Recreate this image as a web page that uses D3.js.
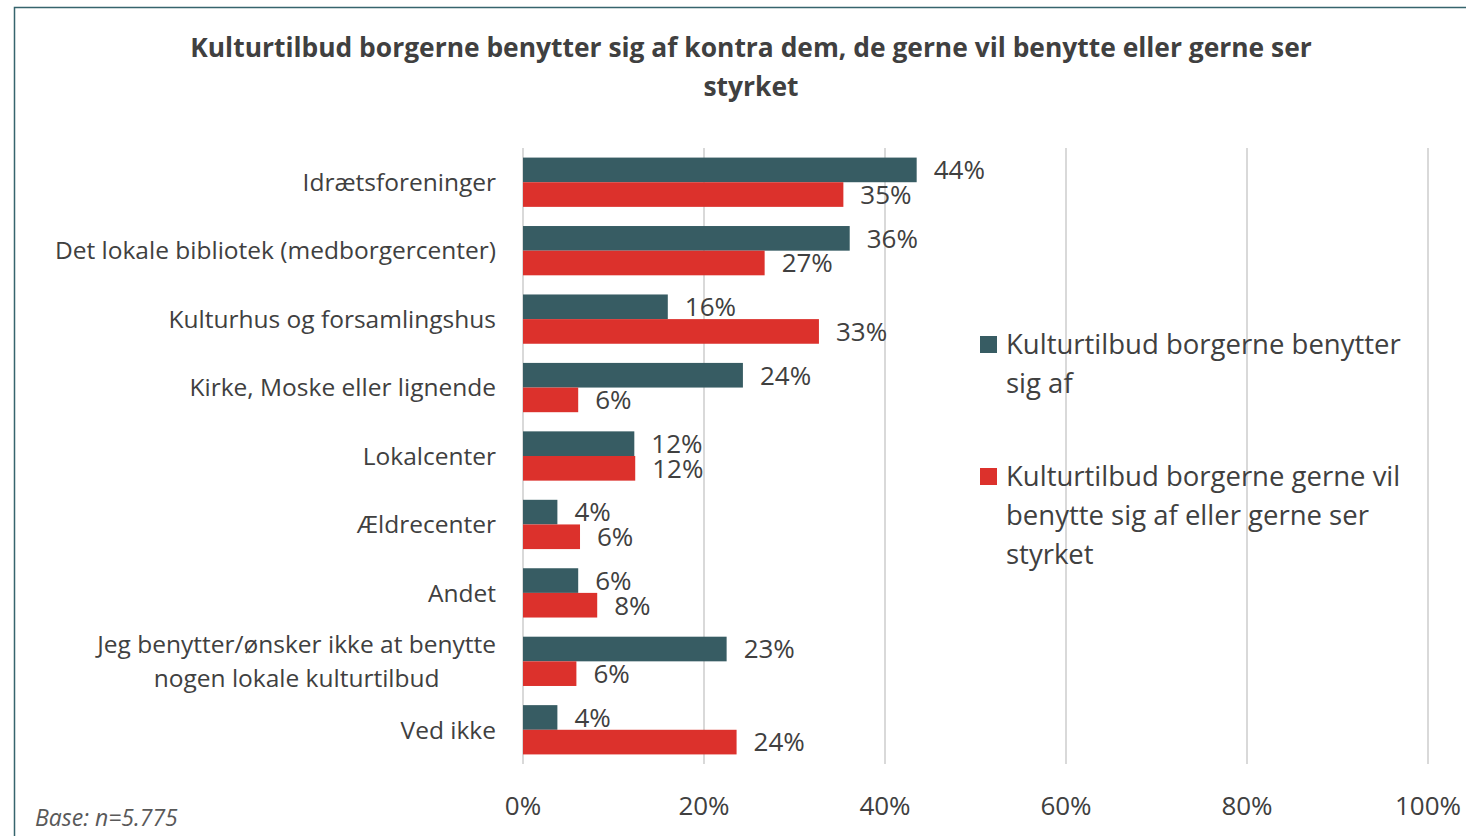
<!DOCTYPE html>
<html lang="da">
<head>
<meta charset="UTF-8">
<title>Kulturtilbud</title>
<script src="https://d3js.org/d3.v7.min.js"></script>
<style>
    body { margin: 0; background: #fff; }
    text { font-family: 'Open Sans', Lato, sans-serif; fill: #404040; }
</style>
</head>
<body>
<script>
    const width = 1466, height = 836;

    const categories = [
        ["Idrætsforeninger"],
        ["Det lokale bibliotek (medborgercenter)"],
        ["Kulturhus og forsamlingshus"],
        ["Kirke, Moske eller lignende"],
        ["Lokalcenter"],
        ["Ældrecenter"],
        ["Andet"],
        ["Jeg benytter/ønsker ikke at benytte", "nogen lokale kulturtilbud"],
        ["Ved ikke"]
    ];
    const seriesNames = [
        ["Kulturtilbud borgerne benytter", "sig af"],
        ["Kulturtilbud borgerne gerne vil", "benytte sig af eller gerne ser", "styrket"]
    ];
    const useValues  = [43.5, 36.1, 16.0, 24.3, 12.3, 3.8, 6.1, 22.5, 3.8];
    const wishValues = [35.4, 26.7, 32.7, 6.1, 12.4, 6.3, 8.2, 5.9, 23.6];
    const ticks = [0, 20, 40, 60, 80, 100];
    const colors = ["#375c63", "#dc312c"];

    const svg = d3.select("body").append("svg")
        .attr("width", width).attr("height", height);

    // frame
    svg.append("path")
        .attr("d", `M14.5,${height} V7.5 H${width}`)
        .attr("fill", "none").attr("stroke", "#36646d").attr("stroke-width", 1.5);

    // title
    const title = ["Kulturtilbud borgerne benytter sig af kontra dem, de gerne vil benytte eller gerne ser", "styrket"];
    svg.append("g").selectAll("text").data(title).join("text")
        .attr("x", 751).attr("y", (d, i) => 57 + i * 39)
        .attr("text-anchor", "middle").attr("font-weight", "bold").attr("font-size", 26.4)
        .text(d => d);

    const x = d3.scaleLinear().domain([0, 100]).range([523, 1428]);
    const y = d3.scaleBand().domain(d3.range(categories.length))
        .range([148, 764]).paddingInner(0.28).paddingOuter(0.14);
    const sub = d3.scaleBand().domain([0, 1]).range([0, y.bandwidth()]);

    // gridlines
    svg.append("g").selectAll("line").data(ticks).join("line")
        .attr("x1", d => x(d)).attr("x2", d => x(d))
        .attr("y1", 148).attr("y2", 764)
        .attr("stroke", "#d9d9d9").attr("stroke-width", 2);

    // x axis labels
    svg.append("g").selectAll("text").data(ticks).join("text")
        .attr("x", d => x(d)).attr("y", 815)
        .attr("text-anchor", "middle").attr("font-size", 26)
        .text(d => d + "%");

    const series = [useValues, wishValues];
    series.forEach((vals, s) => {
        const g = svg.append("g");
        g.selectAll("rect").data(vals).join("rect")
            .attr("x", x(0))
            .attr("y", (d, i) => y(i) + sub(s))
            .attr("width", d => x(d) - x(0))
            .attr("height", sub.bandwidth())
            .attr("fill", colors[s]);
        g.selectAll("text").data(vals).join("text")
            .attr("x", d => x(d) + 17)
            .attr("y", (d, i) => y(i) + sub(s) + sub.bandwidth() / 2)
            .attr("dy", "0.36em")
            .attr("font-size", 26)
            .text(d => Math.round(d) + "%");
    });

    // category labels
    const labelRight = 496;
    categories.forEach((lines, i) => {
        const t = svg.append("text").attr("font-size", 24.5);
        const cy = y(i) + y.bandwidth() / 2;
        const lh = 34;
        lines.forEach((ln, k) => {
            t.append("tspan").attr("x", 0)
                .attr("y", cy + (k - (lines.length - 1) / 2) * lh)
                .attr("dy", "0.36em").text(ln);
        });
        let maxW = 0;
        t.selectAll("tspan").each(function() { maxW = Math.max(maxW, this.getComputedTextLength()); });
        t.attr("text-anchor", "middle");
        t.selectAll("tspan").attr("x", labelRight - maxW / 2);
    });

    // legend
    const legendY = [344, 476];
    seriesNames.forEach((lines, s) => {
        svg.append("rect").attr("x", 980).attr("y", legendY[s] - 8)
            .attr("width", 17).attr("height", 17).attr("fill", colors[s]);
        const t = svg.append("text").attr("font-size", 27.5);
        lines.forEach((ln, k) => {
            t.append("tspan").attr("x", 1006).attr("y", legendY[s] + k * 39)
                .attr("dy", "0.36em").text(ln);
        });
    });

    // base note
    svg.append("text").attr("x", 35).attr("y", 826)
        .attr("font-size", 23).attr("font-style", "italic")
        .style("fill", "#595959")
        .text("Base: n=5.775");
</script>
</body>
</html>
